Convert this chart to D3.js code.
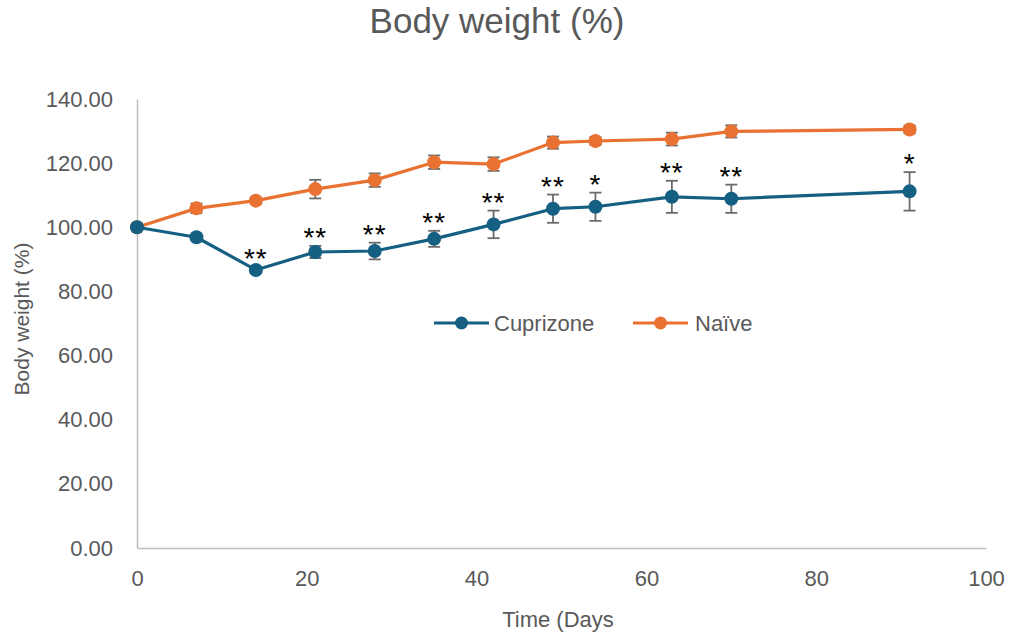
<!DOCTYPE html>
<html><head><meta charset="utf-8">
<script src="https://cdn.jsdelivr.net/npm/d3@7"></script>
<style>
html,body{margin:0;padding:0;background:#fff;}
svg{display:block;font-family:"Liberation Sans",Arial,sans-serif;}
</style></head>
<body><svg id="chart" width="1010" height="638"></svg>
<script>
const days = [0, 7, 14, 21, 28, 35, 42, 49, 54, 63, 70, 91];
const cuprizone = [100, 96.9, 86.7, 92.3, 92.6, 96.4, 100.9, 105.8, 106.4, 109.5, 108.9, 111.2];
const cuprizoneErr = [0, 0.8, 1.0, 1.9, 2.6, 2.5, 4.3, 4.4, 4.4, 5.0, 4.4, 6.0];
const naive = [100, 105.9, 108.3, 111.9, 114.7, 120.3, 119.7, 126.4, 126.9, 127.5, 129.9, 130.5];
const naiveErr = [0, 1.5, 1.0, 2.9, 2.1, 2.1, 2.1, 1.9, 1.2, 2.0, 1.9, 1.2];
const significance = ["", "", "**", "**", "**", "**", "**", "**", "*", "**", "**", "*"];
const seriesNames = ["Cuprizone", "Naïve"];
const yTicks = [0, 20, 40, 60, 80, 100, 120, 140];
const xTicks = [0, 20, 40, 60, 80, 100];

const colors = {"Cuprizone": "#156082", "Naïve": "#E97132"};
const textColor = "#595959";

const svg = d3.select("#chart");
const x = d3.scaleLinear().domain([0, 100]).range([137, 986]);
const y = d3.scaleLinear().domain([0, 140]).range([548, 99]);

// title
svg.append("text").attr("x", 497).attr("y", 33).attr("text-anchor", "middle")
  .attr("fill", textColor).style("font-size", "35px").text("Body weight (%)");

// axes
const yAxis = d3.axisLeft(y).tickValues(yTicks).tickFormat(d3.format(".2f")).tickSize(0).tickPadding(24);
const gy = svg.append("g").attr("transform", `translate(${x(0)},0)`).call(yAxis);
gy.select(".domain").attr("stroke", "#bfbfbf").attr("stroke-width", 1.5);
gy.selectAll("text").attr("fill", textColor).style("font-size", "22px").attr("font-family", "Liberation Sans, Arial, sans-serif");

const xAxis = d3.axisBottom(x).tickValues(xTicks).tickFormat(d3.format("d")).tickSize(0).tickPadding(22);
const gx = svg.append("g").attr("transform", `translate(0,${y(0)})`).call(xAxis);
gx.select(".domain").attr("stroke", "#bfbfbf").attr("stroke-width", 1.5);
gx.selectAll("text").attr("fill", textColor).style("font-size", "22px").attr("font-family", "Liberation Sans, Arial, sans-serif");

// axis titles
svg.append("text").attr("x", 558).attr("y", 627).attr("text-anchor", "middle")
  .attr("fill", textColor).style("font-size", "22px").text("Time (Days");
svg.append("text").attr("transform", "translate(29,319) rotate(-90)").attr("text-anchor", "middle")
  .attr("fill", textColor).style("font-size", "21px").text("Body weight (%)");

const series = [
  {name: "Cuprizone", vals: cuprizone, err: cuprizoneErr},
  {name: "Naïve", vals: naive, err: naiveErr}
];

const line = d3.line().x(d => x(d[0])).y(d => y(d[1]));

series.slice().reverse().forEach(s => {
  const pts = days.map((d, i) => [d, s.vals[i], s.err[i]]);
  const g = svg.append("g");
  g.append("path").datum(pts).attr("d", line).attr("fill", "none")
    .attr("stroke", colors[s.name]).attr("stroke-width", 3.2).attr("stroke-linejoin", "round");
  pts.filter(p => p[2] > 0).forEach(p => {
    const eb = g.append("g").attr("stroke", "#6b6b6b").attr("stroke-width", 1.8);
    eb.append("line").attr("x1", x(p[0])).attr("x2", x(p[0])).attr("y1", y(p[1] - p[2])).attr("y2", y(p[1] + p[2]));
    eb.append("line").attr("x1", x(p[0]) - 6).attr("x2", x(p[0]) + 6).attr("y1", y(p[1] - p[2])).attr("y2", y(p[1] - p[2]));
    eb.append("line").attr("x1", x(p[0]) - 6).attr("x2", x(p[0]) + 6).attr("y1", y(p[1] + p[2])).attr("y2", y(p[1] + p[2]));
  });
  g.selectAll("circle").data(pts).join("circle")
    .attr("cx", p => x(p[0])).attr("cy", p => y(p[1])).attr("r", 7)
    .attr("fill", colors[s.name]);
});

// significance stars
svg.append("g").selectAll("text").data(days.map((d, i) => [d, cuprizone[i] + cuprizoneErr[i], significance[i]]).filter(p => p[2]))
  .join("text")
  .attr("x", p => x(p[0])).attr("y", p => y(p[1]) + 1)
  .attr("text-anchor", "middle").attr("fill", "#000").style("font-size", "28px")
  .attr("letter-spacing", "1px")
  .text(p => p[2]);

// legend
const legend = [{name: "Cuprizone", x0: 434, tx: 494}, {name: "Naïve", x0: 633, tx: 695}];
const lg = svg.append("g");
legend.forEach(l => {
  lg.append("line").attr("x1", l.x0).attr("x2", l.x0 + 55).attr("y1", 323).attr("y2", 323)
    .attr("stroke", colors[l.name]).attr("stroke-width", 3.2);
  lg.append("circle").attr("cx", l.x0 + 27.5).attr("cy", 323).attr("r", 6.5).attr("fill", colors[l.name]);
  lg.append("text").attr("x", l.tx).attr("y", 331).attr("fill", textColor).style("font-size", "22px").text(l.name);
});
</script></body></html>
